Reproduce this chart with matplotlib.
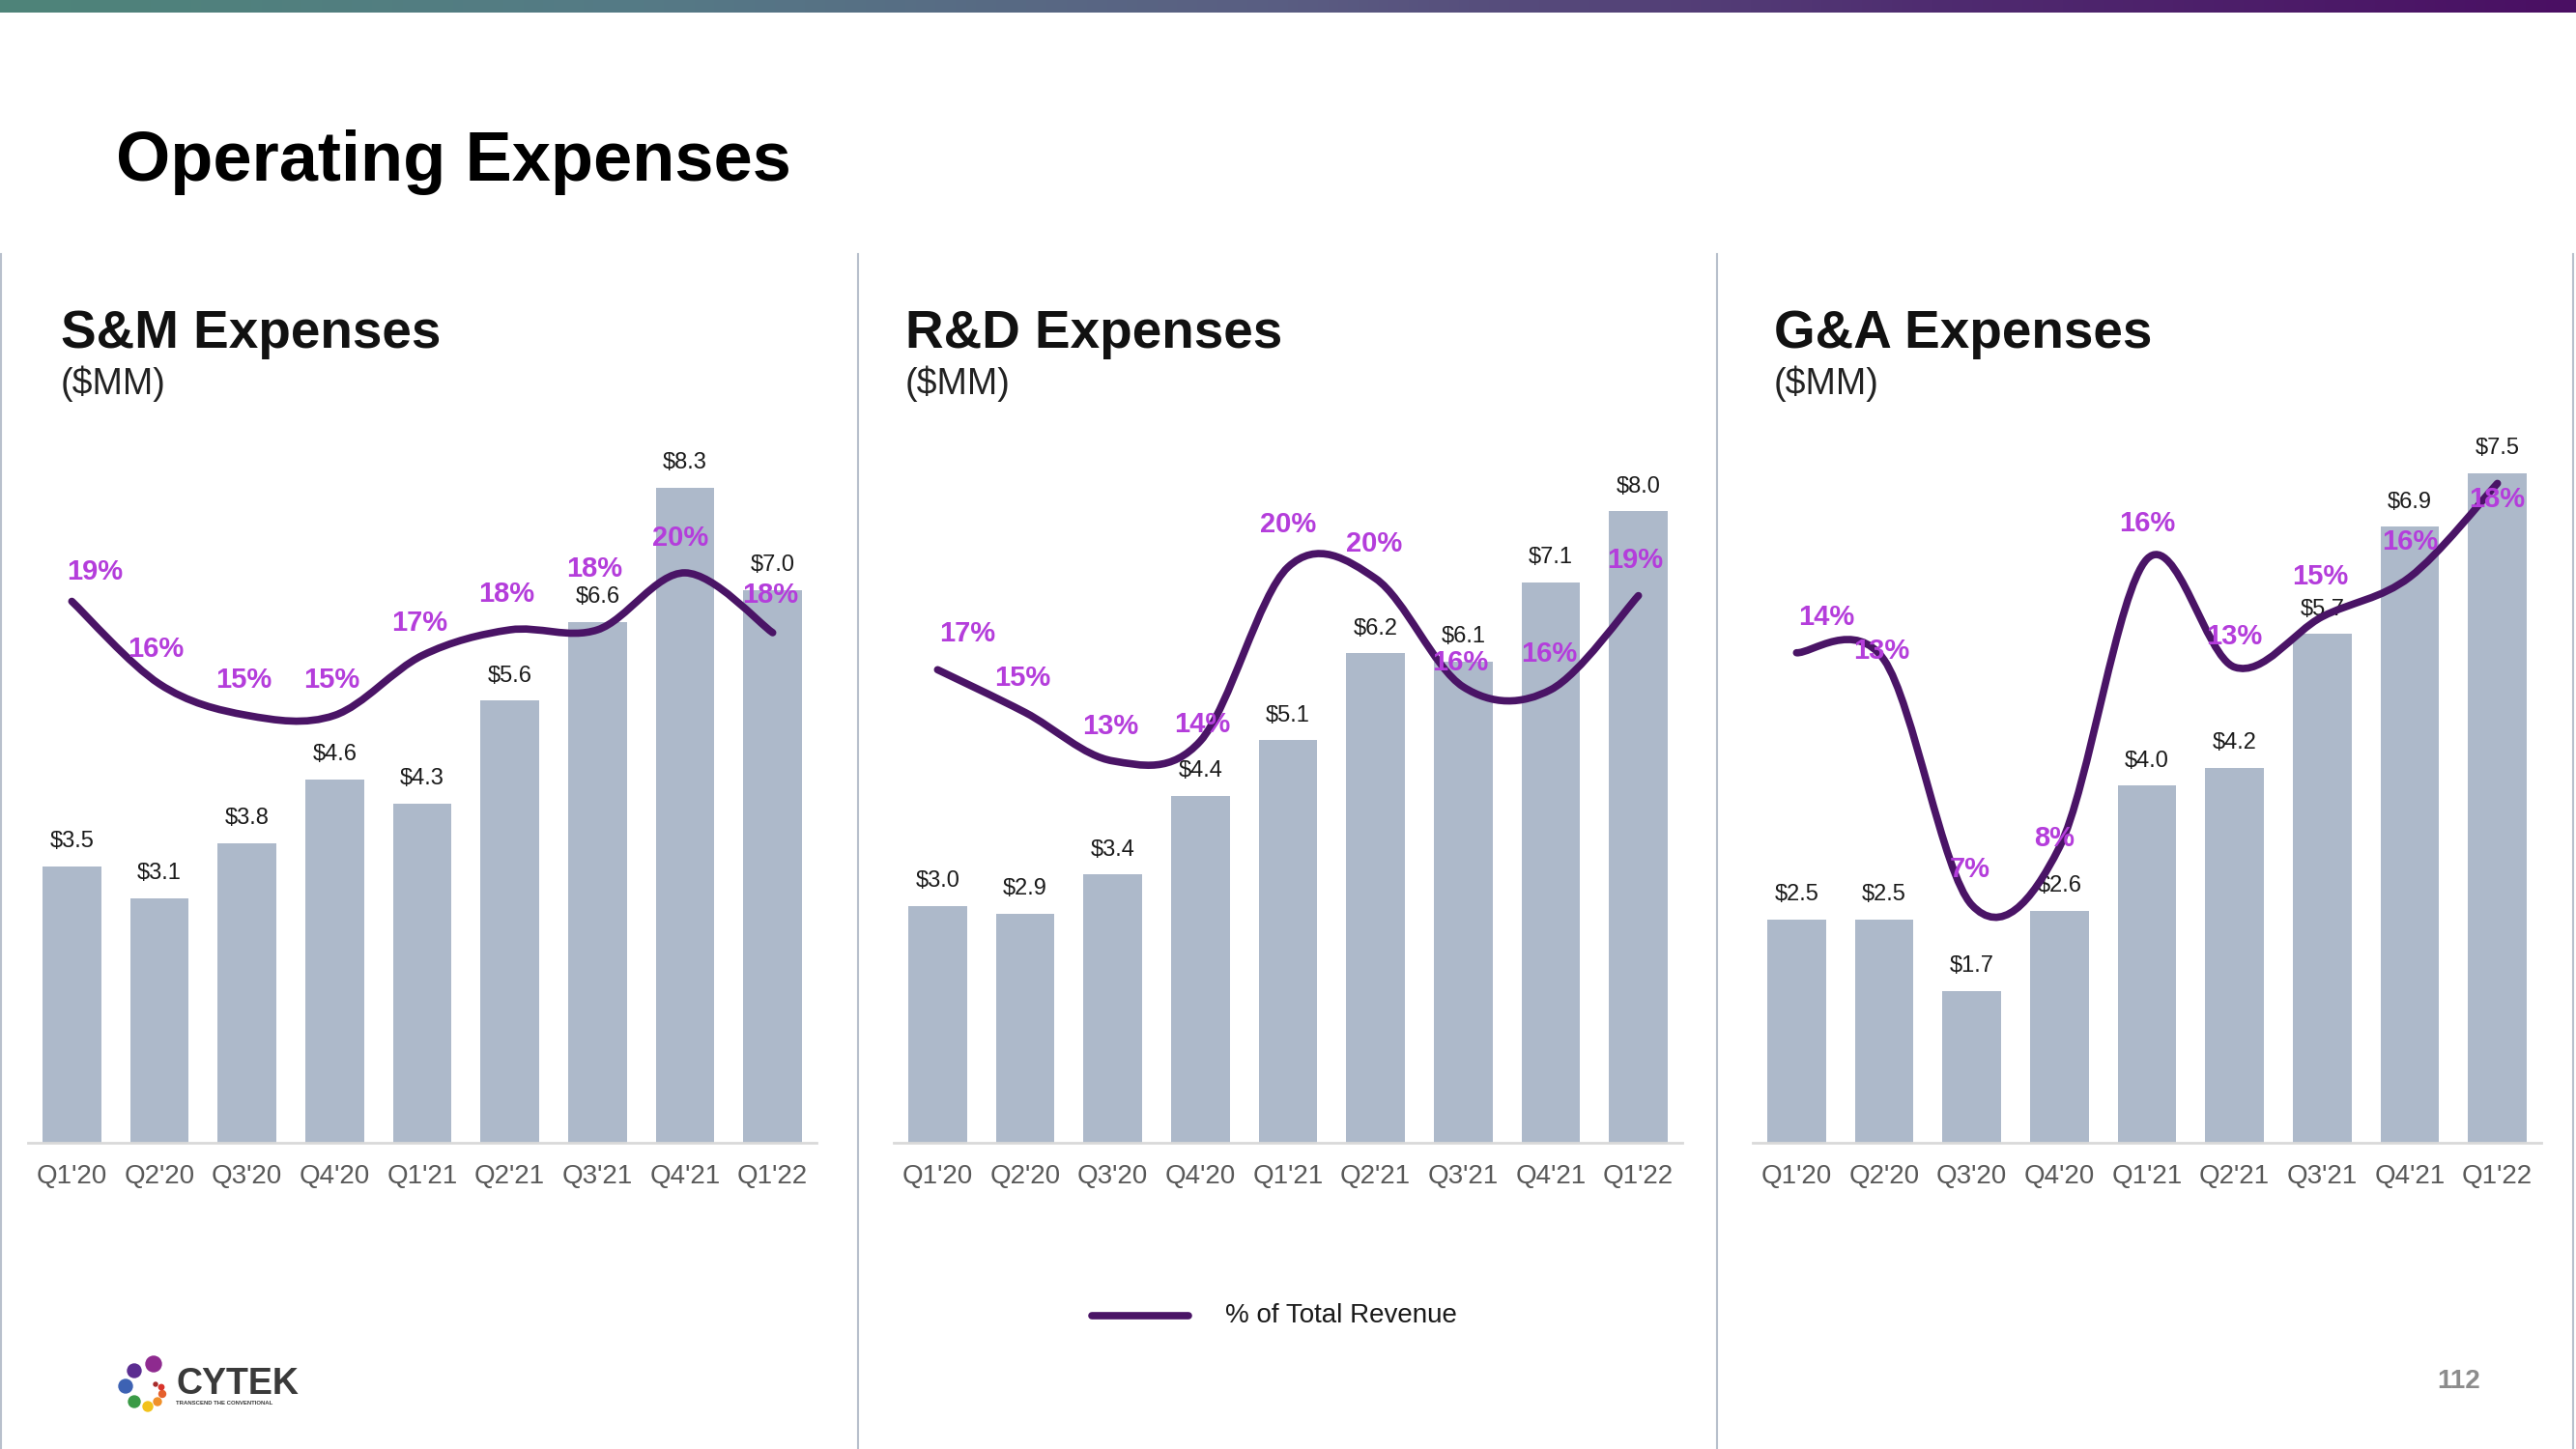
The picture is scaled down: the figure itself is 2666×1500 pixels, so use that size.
"""
Operating expenses slide: S&M, R&D and G&A quarterly spend ($MM, bars)
with % of total revenue as a smoothed line on a twin axis.

Writes out.png (2666 x 1500).
"""
import matplotlib
matplotlib.use("Agg")
import matplotlib.pyplot as plt
import numpy as np
from matplotlib.colors import LinearSegmentedColormap
from matplotlib.lines import Line2D
from matplotlib.patches import Circle, PathPatch
from matplotlib.path import Path


# ---------------- data -------------------------------------------------------
QUARTERS = ["Q1'20", "Q2'20", "Q3'20", "Q4'20", "Q1'21",
            "Q2'21", "Q3'21", "Q4'21", "Q1'22"]

SM_SPEND = [3.5, 3.1, 3.8, 4.6, 4.3, 5.6, 6.6, 8.3, 7.0]
SM_PCT = [19.0, 16.1, 15.0, 15.0, 17.1, 18.0, 18.0, 20.0, 17.9]

RD_SPEND = [3.0, 2.9, 3.4, 4.4, 5.1, 6.2, 6.1, 7.1, 8.0]
RD_PCT = [16.6, 15.1, 13.4, 14.1, 20.2, 19.8, 16.0, 15.9, 19.2]

GA_SPEND = [2.5, 2.5, 1.7, 2.6, 4.0, 4.2, 5.7, 6.9, 7.5]
GA_PCT = [13.6, 13.4, 6.6, 8.2, 16.2, 13.2, 14.6, 15.7, 18.3]


# ---------------- style ------------------------------------------------------
W, H = 2666, 1500
FONT = ["Liberation Sans", "DejaVu Sans"]
BAR_COLOR = "#adb9ca"
LINE_COLOR = "#4a1466"
PCT_COLOR = "#b43ddb"
DIVIDER = "#b8c0cc"
AX_H = 783  # plot height in px, baseline at y=1183

plt.rcParams["font.family"] = FONT

# % label nudges in pixels (dx right, dy up) relative to each line point
SM_NUDGE = [(24, 31), (-4, 36), (-3, 36), (-3, 36), (-3, 34),
            (-3, 37), (-3, 63), (-5, 36), (-2, 39)]
RD_NUDGE = [(31, 37), (-3, 36), (-2, 36), (2, 17), (0, 44),
            (-2, 36), (-3, 25), (-2, 37), (-3, 37)]
GA_NUDGE = [(31, 37), (-3, 9), (-2, 37), (-5, 9), (0, 37),
            (0, 32), (-2, 41), (0, 36), (0, -17)]


def fx(px):
    return px / W


def fy(py):
    return 1 - py / H


def smooth_path(xs, ys):
    """Catmull-Rom style Bezier path through the points (like Excel smoothing)."""
    pts = np.column_stack([xs, ys]).astype(float)
    ext = np.vstack([pts[0], pts, pts[-1]])
    verts = [pts[0]]
    codes = [Path.MOVETO]
    for i in range(len(pts) - 1):
        p0, p1, p2, p3 = ext[i], ext[i + 1], ext[i + 2], ext[i + 3]
        verts += [p1 + (p2 - p0) / 6, p2 - (p3 - p1) / 6, p2]
        codes += [Path.CURVE4] * 3
    return Path(verts, codes)


def draw_panel(left_px, spend, pct, spend_top, pct_top, nudges):
    ax = fig.add_axes([fx(left_px), fy(1183), fx(816), AX_H / H])
    x = np.arange(len(QUARTERS))
    ax.bar(x, spend, width=0.67, color=BAR_COLOR, zorder=2)
    ax.set_xlim(-0.5, len(QUARTERS) - 0.5)
    ax.set_ylim(0, spend_top)
    ax.set_xticks(x, QUARTERS)
    ax.tick_params(axis="x", length=0, pad=16, labelsize=20,
                   labelcolor="#595959")
    ax.set_yticks([])
    for side in ("top", "left", "right"):
        ax.spines[side].set_visible(False)
    ax.spines["bottom"].set_color("#d9d9d9")
    ax.spines["bottom"].set_linewidth(2)
    for xi, v in zip(x, spend):
        ax.annotate(f"${v:.1f}", (xi, v), xytext=(0, 18.5),
                    textcoords="offset points", ha="center", va="center",
                    fontsize=17, color="#1a1a1a")

    ax2 = ax.twinx()
    ax2.set_ylim(0, pct_top)
    ax2.set_yticks([])
    for side in ax2.spines:
        ax2.spines[side].set_visible(False)
    ax2.add_patch(PathPatch(smooth_path(x, pct), fill=False,
                            edgecolor=LINE_COLOR, lw=5.5,
                            capstyle="round", joinstyle="round", zorder=3))
    for xi, v, (dx, dy) in zip(x, pct, nudges):
        ax2.annotate(f"{v:.0f}%", (xi, v), xytext=(dx * 0.72, dy * 0.72),
                     textcoords="offset points", ha="center", va="center",
                     fontsize=21, fontweight="bold", color=PCT_COLOR,
                     zorder=4)
    return ax


fig = plt.figure(figsize=(W / 100, H / 100), dpi=100)

# gradient strip along the top
grad = fig.add_axes([0, fy(13), 1, 13 / H])
cmap = LinearSegmentedColormap.from_list(
    "strip", ["#4e8479", "#557a86", "#5a5d82", "#4f2c70", "#4a0f63"])
grad.imshow(np.linspace(0, 1, 512)[None, :], aspect="auto", cmap=cmap)
grad.axis("off")

fig.text(fx(120), fy(187), "Operating Expenses", fontsize=52,
         fontweight="bold", color="#000000", va="baseline")

# panel frames
for xp in (1, 888, 1777, 2663):
    fig.add_artist(Line2D([fx(xp)] * 2, [0, fy(263)],
                          transform=fig.transFigure, color=DIVIDER, lw=1.5))

# (title x, axes x, title, bars, line, bar px per $MM, line px per %)
panels = [
    (63, 29, "S&M Expenses", SM_SPEND, SM_PCT, 81.7, 29.5, SM_NUDGE),
    (937, 925, "R&D Expenses", RD_SPEND, RD_PCT, 81.7, 29.5, RD_NUDGE),
    (1836, 1814, "G&A Expenses", GA_SPEND, GA_PCT, 92.4, 37.3, GA_NUDGE),
]
for title_x, ax_x, title, spend, pct, k_bar, k_pct, nudge in panels:
    fig.text(fx(title_x), fy(360), title, fontsize=39.5, fontweight="bold",
             color="#111111", va="baseline")
    fig.text(fx(title_x), fy(408), "($MM)", fontsize=27, color="#222222",
             va="baseline")
    draw_panel(ax_x, spend, pct, AX_H / k_bar, AX_H / k_pct, nudge)

# legend
fig.add_artist(Line2D([fx(1130), fx(1230)], [fy(1362)] * 2,
                      transform=fig.transFigure, color=LINE_COLOR, lw=5.5,
                      solid_capstyle="round"))
fig.text(fx(1268), fy(1362), "% of Total Revenue", fontsize=20,
         color="#1a1a1a", va="center")

# page number
fig.text(fx(2545), fy(1430), "112", fontsize=20, fontweight="bold",
         color="#8c8c8c", ha="center", va="center")

# logo
logo = fig.add_axes([fx(100), fy(1470), fx(230), 80 / H])
logo.set_xlim(100, 330)
logo.set_ylim(1470, 1390)
logo.axis("off")
for cx, cy, r, c in [(139, 1419, 7, "#5b2d91"), (159, 1412, 8, "#8e2a8f"),
                     (130, 1435, 7, "#3d62b3"), (139, 1451, 6, "#3a9a46"),
                     (153, 1456, 5, "#f2c21b"), (163, 1451, 4, "#f0902a"),
                     (168, 1443, 3.5, "#e5602c"), (167, 1436, 2.7, "#d9342b"),
                     (161, 1433, 2, "#a52a2a")]:
    logo.add_patch(Circle((cx, cy), r, color=c))
logo.text(182, 1443, "CYTEK", fontsize=27, fontweight="bold",
          color="#3a3a3a", va="baseline")
logo.text(182, 1452, "TRANSCEND THE CONVENTIONAL", fontsize=4.3,
          fontweight="bold", color="#3a3a3a", va="center")

fig.savefig("out.png", dpi=100)
